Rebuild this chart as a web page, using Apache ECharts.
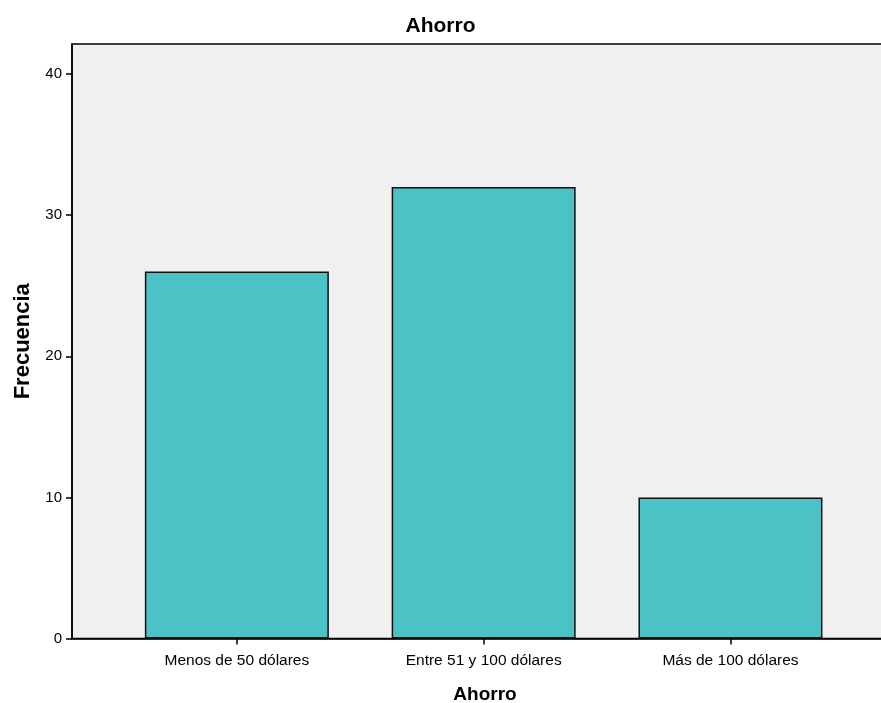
<!DOCTYPE html>
<html><head><meta charset="utf-8">
<script src="https://cdn.jsdelivr.net/npm/echarts@6/dist/echarts.min.js"></script>
<style>html,body{margin:0;padding:0;background:#fff}#c{width:881px;height:703px}</style>
</head><body><div id="c"></div>
<script>
const categories = ['Menos de 50 dólares', 'Entre 51 y 100 dólares', 'Más de 100 dólares'];
const frecuencia = [26, 32, 10];
const yTicks = [0, 10, 20, 30, 40];

const chart = echarts.init(document.getElementById('c'), null, {renderer: 'canvas'});
const font = 'Liberation Sans, Arial, sans-serif';
chart.setOption({
  animation: false,
  title: {text: 'Ahorro', left: 'center', top: 11, textStyle: {fontFamily: font, fontSize: 21, fontWeight: 'bold', color: '#000'}},
  grid: {left: 72, right: -1, top: 44, bottom: 64.5, containLabel: false, outerBoundsMode: 'none',
         show: true, backgroundColor: '#f0f0f0', borderColor: '#000', borderWidth: 1.5},
  xAxis: {
    type: 'value', min: -0.668, max: 2.614,
    name: 'Ahorro', nameLocation: 'middle', nameGap: 47,
    nameTextStyle: {fontFamily: font, fontSize: 19, fontWeight: 'bold', color: '#000', padding: [0, 0, 0, 16]},
    axisLine: {show: true, onZero: false, lineStyle: {color: '#000', width: 1.5}},
    axisTick: {show: true, customValues: [0, 1, 2], length: 6, lineStyle: {color: '#000', width: 1.5}},
    axisLabel: {customValues: [0, 1, 2], formatter: v => categories[Math.round(v)], fontFamily: font, fontSize: 15.5, color: '#000', margin: 14},
    splitLine: {show: false}
  },
  yAxis: {
    type: 'value', min: 0, max: 42.13,
    name: 'Frecuencia', nameLocation: 'middle', nameGap: 38, nameRotate: 90,
    nameTextStyle: {fontFamily: font, fontSize: 22, fontWeight: 'bold', color: '#000'},
    axisLine: {show: true, onZero: false, lineStyle: {color: '#000', width: 1.5}},
    axisTick: {show: true, customValues: yTicks, length: 6, lineStyle: {color: '#000', width: 1.5}},
    axisLabel: {customValues: yTicks, fontFamily: font, fontSize: 15, color: '#000', margin: 10},
    splitLine: {show: false}
  },
  series: [{
    type: 'bar', barWidth: 184,
    data: frecuencia.map((v, i) => [i, v]),
    itemStyle: {color: '#4ac2c6', borderColor: '#111', borderWidth: 1.5}
  }]
});
</script></body></html>
